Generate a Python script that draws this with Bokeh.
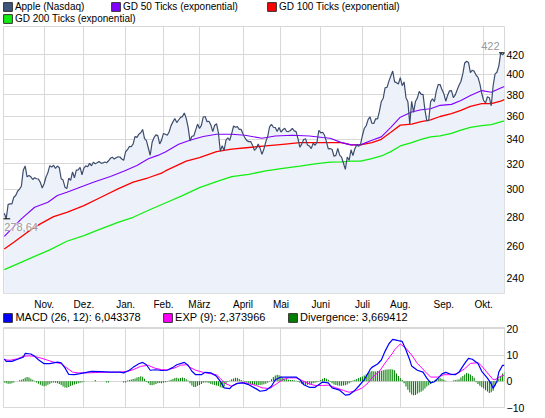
import numpy as np
from bokeh.plotting import figure
from bokeh.models import FixedTicker, Legend, LegendItem, Label, NumeralTickFormatter
from bokeh.layouts import column
from bokeh.embed import file_html
from bokeh.resources import INLINE

# ---------------- data ----------------
month_labels = ["Nov.", "Dez.", "Jan.", "Feb.", "März", "April", "Mai", "Juni", "Juli", "Aug.", "Sep.", "Okt."]
month_start_idx = [21, 42, 64, 84, 103, 126, 146, 167, 189, 209, 232, 253]
price_ticks = [240, 260, 280, 300, 320, 340, 360, 380, 400, 420]
macd_ticks = [-10, 0, 10, 20]

apple_close = [
    282.52, 278.64, 288.94, 289.19, 289.22, 294.07, 295.36, 298.54, 300.14, 302.31, 314.74,
    318.00, 309.49, 310.53, 309.52, 307.47, 308.84, 308.05, 307.83, 305.24, 300.98,
    304.18, 309.36, 312.80, 318.27, 317.13, 318.62, 316.08, 318.03, 316.66, 308.03, 307.04,
    301.59, 300.50, 308.43, 306.73, 313.36, 308.73, 314.80, 315.00, 316.87, 311.15,
    316.40, 318.15, 317.44, 320.15, 318.21, 321.01, 319.76, 320.56, 321.67, 320.29, 320.36,
    321.25, 320.61, 322.21, 324.20, 325.16, 323.60, 324.68, 325.47, 325.29, 323.66, 322.56,
    329.57, 331.29, 334.00, 333.73, 336.12, 342.45, 341.64, 344.42, 345.68, 348.48,
    340.65, 338.84, 332.68, 326.72, 337.45, 341.40, 343.85, 343.21, 336.10, 339.32,
    345.03, 344.32, 343.44, 346.50, 351.88, 355.20, 358.16, 354.54, 356.85, 359.18,
    359.90, 363.13, 358.30, 350.56, 338.61, 342.62, 342.88, 348.16, 353.21,
    349.31, 352.12, 359.56, 360.00, 355.36, 355.76, 352.47, 346.67, 351.99, 353.56, 345.43,
    330.01, 334.64, 330.67, 339.30, 341.20, 339.19, 344.97, 351.54, 350.44, 350.96, 348.63, 348.51,
    344.56, 341.19, 338.89, 338.04, 338.08, 335.06, 330.80, 332.40, 336.13, 332.42,
    327.46, 331.85, 337.86, 342.41, 350.70, 353.01, 350.42, 350.15, 346.75, 350.13,
    346.28, 348.20, 349.57, 346.75, 346.66, 347.60, 349.45, 347.23, 346.57, 340.50, 333.30,
    336.14, 339.87, 340.53, 335.22, 334.40, 332.19, 336.78, 335.00, 337.41, 347.83,
    345.51, 346.10, 343.44, 338.04, 332.04, 332.24, 331.49, 325.90, 326.60, 332.44, 326.75,
    325.16, 320.26, 315.32, 325.30, 322.61, 331.23, 326.35, 332.04, 335.26, 334.04, 335.67,
    343.26, 349.43, 351.76, 357.20, 359.71, 354.00, 353.75, 358.02, 357.77, 364.92,
    373.80, 376.85, 386.90, 387.29, 393.30, 398.50, 403.41, 392.59, 391.82, 390.48,
    396.75, 388.91, 392.57, 377.37, 373.62, 353.21, 374.01, 363.69, 373.70, 376.99, 383.41, 380.48,
    380.44, 366.05, 356.03, 356.44, 373.60, 376.18, 373.72, 383.58, 389.97, 389.99, 384.83,
    381.03, 374.05, 379.74, 383.93, 384.14, 377.48, 379.94, 384.62, 389.30, 392.96, 400.50,
    411.63, 413.45, 412.14, 401.82, 404.30, 403.17, 399.26, 397.01, 390.57, 381.32,
    374.60, 372.50, 378.25, 377.37, 369.80, 388.81, 400.29, 402.19, 408.43, 422.00, 419.99, 422.24,
]

gd50_idx = [0, 9, 16, 23, 28, 33, 40, 47, 56, 63, 70, 76, 81, 85, 92, 98, 105, 112, 120, 127,
            136, 143, 152, 161, 168, 172, 178, 183, 188, 194, 199, 204, 209, 215, 220, 225, 230, 236,
            241, 246, 252, 257, 262, 264]
gd50_val = [266.7, 278.6, 286.8, 290.4, 295.4, 297.8, 301.6, 305.4, 309.8, 313.9, 318.4, 323.9, 326.6,
            329.4, 335.8, 339.2, 342.4, 344.4, 344.4, 343.5, 340.9, 342.9, 343.5, 342.9, 341.5, 340.9,
            337.2, 335.3, 335.3, 339.2, 342.1, 350.4, 359.4, 364.0, 366.2, 367.1, 370.2, 371.1, 374.8,
            379.4, 384.1, 382.5, 386.7, 388.0]

gd100_idx = [0, 5, 12, 19, 26, 33, 42, 51, 60, 68, 76, 83, 85, 96, 103, 112, 120, 129, 138, 147,
             156, 164, 172, 178, 183, 188, 194, 199, 204, 209, 215, 220, 225, 230, 236, 241, 246, 252,
             257, 262, 264]
gd100_val = [258.4, 262.7, 269.3, 275.1, 280.2, 283.2, 288.0, 294.1, 300.3, 305.4, 308.8, 312.4, 314.1,
             321.9, 324.7, 329.7, 331.7, 333.1, 334.4, 335.8, 337.2, 337.2, 337.2, 337.2, 335.3, 335.3,
             337.2, 340.0, 346.0, 352.3, 353.2, 355.4, 357.0, 360.0, 362.5, 365.5, 369.2, 371.7, 371.7,
             374.2, 375.5]

gd200_idx = [0, 7, 16, 24, 33, 42, 51, 60, 68, 77, 85, 94, 103, 112, 120, 129, 138, 147, 156, 164,
             172, 178, 183, 188, 194, 199, 204, 209, 215, 220, 225, 230, 236, 241, 246, 252, 257, 262, 264]
gd200_val = [245.3, 248.9, 253.6, 257.8, 263.4, 267.2, 271.7, 276.2, 279.7, 285.2, 289.9, 295.3, 301.2,
             305.9, 309.6, 311.5, 314.1, 316.2, 318.0, 319.7, 321.1, 321.4, 321.9, 321.9, 324.0, 326.1,
             329.7, 334.4, 337.2, 340.0, 342.1, 343.0, 345.1, 348.0, 350.4, 351.9, 352.8, 355.1, 356.0]

macd_idx = [0, 1, 4, 7, 10, 11, 14, 16, 18, 21,
            24, 28, 30, 32, 34, 37, 40, 46, 51, 56,
            61, 63, 66, 68, 71, 73, 75, 77, 80, 83,
            86, 89, 91, 95, 97, 99, 101, 104, 106, 109,
            112, 114, 116, 119, 120, 123, 126, 129, 133, 135,
            138, 141, 143, 146, 150, 154, 156, 158, 161, 164,
            168, 171, 173, 177, 180, 182, 185, 187, 190, 193,
            194, 197, 199, 201, 203, 205, 208, 210, 212, 214,
            215, 218, 221, 223, 225, 227, 229, 231, 233, 236,
            238, 240, 243, 245, 247, 250, 252, 255, 257, 258,
            260, 261, 263, 264]
macd_val = [8.5, 7.6, 7.6, 8.4, 9.2, 10.6, 10.4, 9.5, 8.2, 6.7,
            6.7, 7.3, 7.0, 5.1, 2.6, 2.5, 2.9, 3.8, 3.7, 3.5,
            3.5, 3.2, 4.2, 5.3, 6.7, 7.2, 6.3, 4.2, 4.4, 4.1,
            4.2, 5.3, 6.3, 7.2, 6.1, 3.8, 2.5, 2.5, 3.4, 3.2,
            1.9, 0.0, -2.5, -2.8, -1.9, -0.8, -0.6, -1.3, -2.9, -3.8,
            -3.5, -1.9, 0.6, 1.6, 1.6, 1.6, 0.6, -1.3, -2.3, -2.3,
            -0.3, -0.6, -2.5, -3.4, -5.3, -5.1, -3.5, -1.9, 0.6, 4.4,
            5.3, 6.6, 8.1, 11.5, 14.3, 16.0, 15.5, 15.2, 11.9, 8.1,
            5.8, 4.2, 3.5, 1.2, -0.6, -0.2, 1.2, 2.8, 3.4, 2.6,
            2.5, 3.5, 6.8, 8.7, 8.4, 6.8, 3.8, 1.2, -1.0, -2.7,
            -0.1, 3.5, 6.1, 6.04]

exp_idx = [0, 3, 7, 10, 13, 16, 19, 23, 26, 30, 33, 36, 39, 44, 51, 61, 65, 68, 72, 76,
           79, 83, 86, 90, 93, 96, 98, 101, 105, 108, 112, 114, 117, 120, 122, 126, 129, 133, 136, 140,
           143, 147, 150, 154, 157, 161, 164, 168, 171, 175, 179, 182, 186, 189, 192, 194, 198, 201, 205, 206,
           209, 212, 215, 218, 222, 225, 229, 232, 236, 239, 243, 246, 250, 252, 255, 258, 259, 262, 264]
exp_val = [8.2, 8.0, 8.6, 9.5, 9.7, 9.5, 8.9, 8.0, 7.3, 6.7, 5.1, 3.5, 3.2, 3.2, 3.4, 3.5, 3.8, 4.4, 5.7, 6.1,
           5.1, 4.4, 4.4, 5.1, 6.1, 6.3, 5.3, 4.2, 3.4, 3.0, 2.5, 1.0, -1.0, -1.9, -1.0, -0.4, -0.9, -1.6, -2.5, -2.8,
           -1.3, 0.6, 1.3, 1.3, 0.3, -1.0, -1.6, -1.6, -1.5, -2.5, -3.5, -4.2, -3.5, -2.5, -0.6, 1.3, 3.8, 7.0, 10.8, 12.0,
           14.2, 12.6, 10.0, 6.8, 3.8, 1.6, 1.6, 2.5, 2.5, 2.9, 4.8, 6.8, 7.1, 5.8, 3.2, 0.6, 0.6, 1.9, 2.37]

divergence = [
    -0.5, -0.8, -0.9, -0.9, -0.8, -0.5, 0, 0, 0.4, 0.6,
    0.9, 1.3, 1.6, 1.4, 1.0, 0.6, 0.2, -0.5, -0.9, -1.3,
    -1.7, -1.9, -1.7, -1.3, -0.9, -0.6, -0.5, -0.6, -0.8, -1.0,
    -1.4, -2.0, -2.4, -2.5, -2.2, -1.8, -1.5, -1.2, -1.0, -0.8,
    -0.6, -0.4, -0.2, 0, 0, 0, 0, 0, 0.5, 0,
    0, 0, 0, 0, -0.5, -0.5, 0, 0, 0, 0,
    0, 0, 0, -0.5, -0.5, 0.3, 0.5, 0.7, 0.9, 1.1,
    1.4, 1.6, 1.9, 1.7, 1.0, -0.3, -0.8, -1.4, -1.5, -1.3,
    -1.0, -0.8, -0.7, -0.8, -0.6, -0.4, -0.2, 0.3, 0.6, 0.9,
    1.2, 1.3, 1.1, 1.2, 1.4, 1.2, 0.8, 0.3, -0.8, -1.6,
    -2.2, -2.2, -1.7, -1.4, -1.0, -0.6, -0.5, -0.5, -0.7, -1.0,
    -1.2, -1.4, -1.6, -1.8, -2.3, -2.5, -2.0, -1.0, -0.3, 0.3,
    0.8, 1.1, 1.3, 1.2, 0.9, 0.5, 0.2, -0.3, -0.6, -0.8,
    -1.0, -1.2, -1.3, -1.4, -1.5, -1.4, -1.3, -1.1, -0.9, -0.6,
    -0.2, 0.8, 1.6, 2.2, 2.5, 2.3, 1.8, 1.3, 1.0, 0.8,
    0.6, 0.5, 0.5, 0.4, 0.2, -0.3, -0.6, -1.0, -1.3, -1.4,
    -1.3, -1.2, -1.0, -0.8, -0.6, -0.4, -0.2, 0.5, 1.0, 1.2,
    1.0, 0.6, -0.3, -0.8, -1.2, -1.4, -1.6, -1.7, -1.7, -1.6,
    -1.5, -1.2, -0.8, -0.4, 0.3, 0.6, 0.9, 1.2, 1.5, 1.8,
    2.2, 2.7, 3.2, 3.6, 3.9, 3.8, 3.7, 3.9, 4.0, 4.0,
    4.2, 4.4, 4.5, 4.6, 4.6, 4.5, 4.2, 3.0, 2.0, 1.2,
    0.5, -0.8, -2.0, -3.2, -4.3, -5.0, -5.3, -5.2, -4.8, -4.3,
    -4.0, -3.5, -2.8, -2.0, -1.5, -1.0, -0.6, 0.3, 0.8, 1.1,
    1.2, 0.9, 0.6, 0.2, 0, 0, 0, 0.3, 0.5, 0.6,
    0.8, 1.4, 2.0, 2.6, 3.2, 3.0, 2.6, 2.0, 1.3, -0.4,
    -1.0, -1.7, -2.3, -2.8, -3.4, -3.9, -4.5, -4.2, -3.6, -1.8,
    -0.5, 1.0, 2.0, 3.0, 3.67,
]

legend_main = ["Apple (Nasdaq)", "GD 50 Ticks (exponential)", "GD 100 Ticks (exponential)", "GD 200 Ticks (exponential)"]
legend_macd = ["MACD (26, 12): 6,043378", "EXP (9): 2,373966", "Divergence: 3,669412"]

# ---------------- style ----------------
FONT = "Liberation Sans"
C_APPLE = "#3d4d6d"
C_APPLE_KEY = "#3f557c"
C_AREA = "#edf1f9"
C_GD50 = "#8000ff"
C_GD100 = "#ff0000"
C_GD200 = "#11ee11"
C_MACD = "#0000ff"
C_EXP = "#ff00ff"
C_DIV = "#008000"
C_GRID = "#d8d8d8"

n = len(apple_close)
idx = list(range(n))
y_lo, y_hi = 231.1, 451
x_lo, x_hi = -0.44, n - 1.0
macd_lo, macd_hi = -10, 20.5

TOTAL_W = 529
FW = 501
FH1 = 267
FH2 = 80


def style(fig):
    fig.outline_line_color = C_GRID
    fig.outline_line_width = 1
    fig.background_fill_color = "white"
    fig.border_fill_color = "white"
    for ax in fig.axis:
        ax.axis_line_color = None
        ax.major_tick_line_color = None
        ax.minor_tick_line_color = None
        ax.major_tick_out = 0
        ax.major_tick_in = 0
        ax.minor_tick_out = 0
        ax.minor_tick_in = 0
        ax.major_label_text_font = FONT
        ax.major_label_text_color = "#000000"
    fig.grid.grid_line_color = C_GRID
    fig.grid.grid_line_width = 1


def legend_strip(height, entries):
    """A thin figure that only carries legend keys; entries: (label, fill, x, y, font_size)."""
    f = figure(frame_width=TOTAL_W, frame_height=height, x_range=(0, 1), y_range=(0, 1),
               x_axis_type=None, y_axis_type=None, output_backend="svg", toolbar_location=None,
               min_border=0)
    f.outline_line_color = None
    f.background_fill_color = "white"
    f.border_fill_color = "white"
    for lab, fill, x, y, fs in entries:
        # key swatch renderer: its only quad lies outside the strip's ranges, so only the key shows
        r = f.quad(left=[2], right=[3], top=[3], bottom=[2], fill_color=fill,
                   line_color="#333333", line_width=1)
        leg = Legend(items=[LegendItem(label=lab, renderers=[r])], location=(x, y),
                     orientation="horizontal", glyph_width=11, glyph_height=11, label_height=11,
                     label_standoff=2, padding=0, margin=0, spacing=0,
                     border_line_color=None, background_fill_alpha=0,
                     label_text_font=FONT, label_text_font_size=fs, label_text_color="#000000")
        f.add_layout(leg)
    return f


# ---------------- legend strip above the price chart ----------------
top_keys = legend_strip(25, [
    (legend_main[0], C_APPLE_KEY, 1.9, 13, "10px"),
    (legend_main[1], C_GD50, 109.9, 13, "10px"),
    (legend_main[2], C_GD100, 265.9, 13, "10px"),
    (legend_main[3], C_GD200, 1.9, 1.5, "10px"),
])

# ---------------- main price chart ----------------
p = figure(frame_width=FW, frame_height=FH1, x_range=(x_lo, x_hi), y_range=(y_lo, y_hi),
           y_axis_type="log", y_axis_location="right", output_backend="svg", toolbar_location=None,
           min_border_left=3, min_border_right=4, min_border_top=1, min_border_bottom=19)
style(p)
p.yaxis.ticker = FixedTicker(ticks=price_ticks)
p.yaxis.formatter = NumeralTickFormatter(format="0")
p.yaxis.major_label_text_font_size = "10.5px"
p.yaxis.major_label_standoff = 2
p.xaxis.ticker = FixedTicker(ticks=month_start_idx)
p.xaxis.major_label_overrides = {i: lab for i, lab in zip(month_start_idx, month_labels)}
p.xaxis.major_label_text_font_size = "10px"
p.xaxis.major_label_standoff = 5
p.ygrid.ticker = FixedTicker(ticks=price_ticks)
p.xgrid.ticker = FixedTicker(ticks=month_start_idx)

p.varea(x=idx, y1=[y_lo] * n, y2=apple_close, fill_color=C_AREA)
p.line(gd200_idx, gd200_val, line_color=C_GD200, line_width=1.3)
p.line(gd100_idx, gd100_val, line_color=C_GD100, line_width=1.3)
p.line(gd50_idx, gd50_val, line_color=C_GD50, line_width=1.1)
p.line(idx, apple_close, line_color=C_APPLE, line_width=1.2)

jmin = int(np.argmin(apple_close))
pmin = apple_close[jmin]
jmax = int(np.argmax(apple_close))
pmax = apple_close[jmax]
p.scatter([jmin], [pmin], marker="dash", size=8, line_color="black", line_width=1)
p.scatter([jmax], [pmax], marker="dash", size=11, line_color="black", line_width=1)
p.add_layout(Label(x=jmin, y=pmin, text=f"{pmin:.2f}".replace(".", ","), x_offset=-2, y_offset=-4,
                   text_baseline="top", text_align="left", text_color="#9a9a9a", text_font=FONT,
                   text_font_size="11px", background_fill_color="white", background_fill_alpha=0.6))
p.add_layout(Label(x=jmax, y=pmax, text=f"{pmax:.0f}", x_offset=-5, y_offset=3,
                   text_baseline="bottom", text_align="right", text_color="#9a9a9a", text_font=FONT,
                   text_font_size="11px"))

# ---------------- legend strip above the MACD chart ----------------
macd_keys = legend_strip(11, [
    (legend_macd[0], C_MACD, 2.4, 0, "11px"),
    (legend_macd[1], C_EXP, 162.1, 0, "11px"),
    (legend_macd[2], C_DIV, 287.1, 0, "11px"),
])

# ---------------- MACD chart ----------------
p2 = figure(frame_width=FW, frame_height=FH2, x_range=p.x_range, y_range=(macd_lo, macd_hi),
            y_axis_location="right", output_backend="svg", toolbar_location=None,
            min_border_left=3, min_border_right=4, min_border_top=4, min_border_bottom=6)
style(p2)
p2.xaxis.visible = False
p2.xgrid.ticker = FixedTicker(ticks=month_start_idx)
p2.yaxis.ticker = FixedTicker(ticks=macd_ticks)
p2.ygrid.ticker = FixedTicker(ticks=macd_ticks)
p2.yaxis.major_label_text_font_size = "10.5px"
p2.yaxis.major_label_standoff = 2

p2.vbar(x=idx, top=divergence, bottom=0, width=0.55, fill_color=C_DIV, line_color=None)
p2.line(exp_idx, exp_val, line_color=C_EXP, line_width=1.0)
p2.line(macd_idx, macd_val, line_color=C_MACD, line_width=1.2)

layout = column(top_keys, p, macd_keys, p2, spacing=0)
open("out.html", "w").write(file_html(layout, INLINE))
